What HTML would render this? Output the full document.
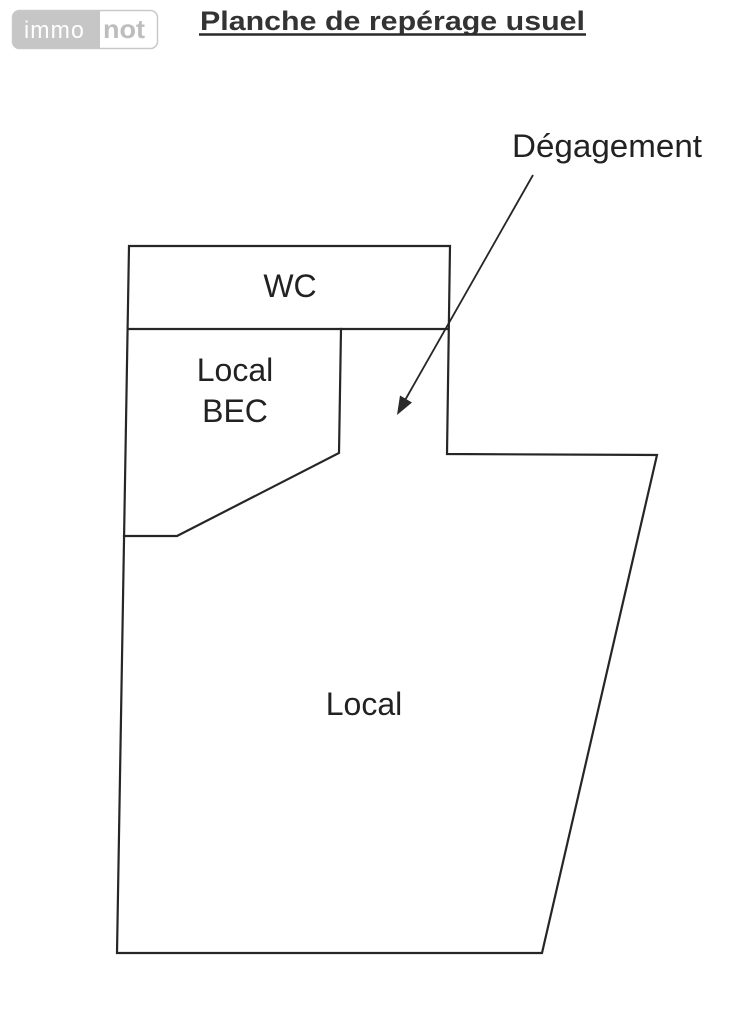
<!DOCTYPE html>
<html>
<head>
<meta charset="utf-8">
<style>
  html, body { margin: 0; padding: 0; background: #ffffff; }
  body { width: 750px; height: 1016px; overflow: hidden; }
  svg { display: block; }
  text { font-family: "Liberation Sans", Arial, sans-serif; fill: #222; }
</style>
</head>
<body>
<svg width="750" height="1016" viewBox="0 0 750 1016" xmlns="http://www.w3.org/2000/svg">
  <!-- logo -->
  <rect x="12.5" y="10.5" width="145" height="38" rx="7" ry="7" fill="#ffffff" stroke="#c9c9c9" stroke-width="1.5"/>
  <path d="M19.5 10.5 H100 V48.5 H19.5 A7 7 0 0 1 12.5 41.5 V17.5 A7 7 0 0 1 19.5 10.5 Z" fill="#c6c6c6"/>
  <text x="24" y="38" font-size="24" letter-spacing="1.2" textLength="61" lengthAdjust="spacingAndGlyphs" style="fill:#ffffff">immo</text>
  <text x="103" y="38" font-size="26" font-weight="bold" textLength="42" lengthAdjust="spacingAndGlyphs" style="fill:#bdbdbd">not</text>

  <!-- title -->
  <text x="200" y="30" font-size="27" font-weight="bold" textLength="385" lengthAdjust="spacingAndGlyphs" style="fill:#333">Planche de repérage usuel</text>
  <line x1="199" y1="34.5" x2="586" y2="34.5" stroke="#2a2a2a" stroke-width="2.5"/>

  <!-- floor plan -->
  <g fill="none" stroke="#262626" stroke-width="2.2" stroke-linejoin="miter" stroke-linecap="square">
    <polygon points="129,246 450,246 447,454 657,455 542,953 117,953"/>
    <line x1="129" y1="329" x2="448" y2="329"/>
    <polyline points="341,329 339,453 177,536 124,536"/>
  </g>

  <!-- arrow -->
  <line x1="533" y1="175" x2="404" y2="402" stroke="#262626" stroke-width="1.8"/>
  <polygon points="397,415 412,402.5 400,395.5" fill="#2a2a2a"/>

  <!-- labels -->
  <text x="512" y="157" font-size="32" textLength="190" lengthAdjust="spacingAndGlyphs">Dégagement</text>
  <text x="290" y="297" font-size="32" text-anchor="middle">WC</text>
  <text x="235" y="381" font-size="32" text-anchor="middle">Local</text>
  <text x="235" y="422" font-size="32" text-anchor="middle">BEC</text>
  <text x="364" y="715" font-size="32" text-anchor="middle">Local</text>
</svg>
</body>
</html>
